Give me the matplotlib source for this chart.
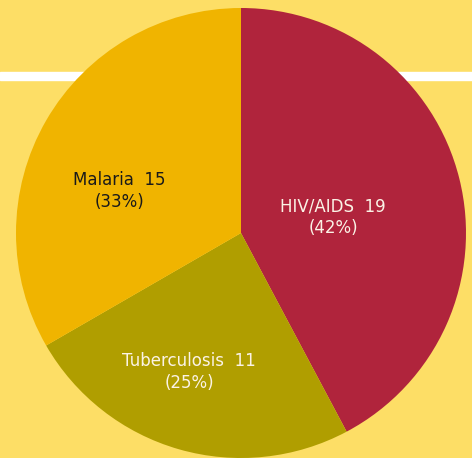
import matplotlib
matplotlib.use("Agg")
import matplotlib.pyplot as plt

# data
causes = ["HIV/AIDS", "Tuberculosis", "Malaria"]
deaths = [19, 11, 15]
pct_labels = ["42%", "25%", "33%"]
colors = ["#B0243C", "#B09E00", "#F0B400"]
text_colors = ["#FBF3E6", "#FBF3E6", "#1A1A1A"]

BG = "#FDDE66"
W, H = 472, 458
cx, cy, r = 241, H - 233, 225

# label anchor points (pixels, top-left origin)
label_xy = [(333, 217), (189, 372), (119, 191)]

fig = plt.figure(figsize=(W / 100, H / 100), dpi=100, facecolor=BG)
ax = fig.add_axes([0, 0, 1, 1])
ax.set_facecolor(BG)

# white strip behind the pie
ax.axhspan(H - 80, H - 72, color="white", zorder=0)

ax.pie(deaths, colors=colors, startangle=90, counterclock=False,
       center=(cx, cy), radius=r, frame=True,
       wedgeprops=dict(linewidth=0, zorder=2))

for name, n, p, (x, y), tc in zip(causes, deaths, pct_labels, label_xy, text_colors):
    ax.text(x, H - y, f"{name}  {n}\n({p})", ha="center", va="center",
            color=tc, fontsize=12, linespacing=1.25, zorder=3)

ax.set_xlim(0, W)
ax.set_ylim(0, H)
ax.set_aspect("auto")
ax.axis("off")

fig.savefig("out.png", dpi=100, facecolor=BG)
